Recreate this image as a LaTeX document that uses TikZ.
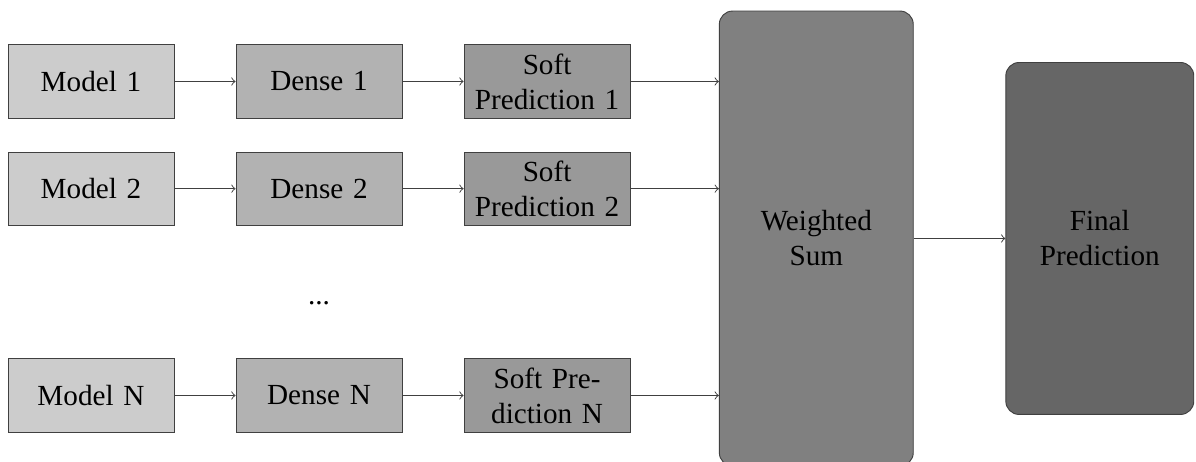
\documentclass[tikz,border=0pt]{standalone}
\usepackage{fontspec}
\setmainfont{Liberation Serif}
\usetikzlibrary{positioning}
\usetikzlibrary{calc}
\tikzset{
  box/.style     = { rectangle, draw=black!75, minimum width=2.5cm, minimum height=1.1cm,
                     text width=2.18cm, align=center },
  tall/.style    = { rectangle, draw=black!75, rounded corners=2mm,
                     text width=2.18cm, align=center },
}
\tikzset{
  model/.style   = { box,  fill=black!20 },
  dense/.style   = { box,  fill=black!30 },
  soft/.style    = { box,  fill=black!40 },
  merge/.style   = { tall, fill=black!50, minimum width=2.92cm, minimum height=6.85cm },
  final/.style   = { tall, fill=black!60, minimum width=2.83cm, minimum height=5.3cm },
}

\begin{document}
\begin{tikzpicture}[
  node distance=9.2mm,
  font=\fontsize{12.5pt}{15pt}\selectfont,
  thin,black!75,text=black
]
  \useasboundingbox (0,0) rectangle (18.01,-6.943);

  \node (m1) [model] at (1.37,-1.227)      {Model 1};
  \node (d1) [dense,right=of m1]           {Dense 1};
  \node (s1) [soft,right=of d1]            {Soft Prediction 1};

  \node (m2) [model,below=5mm of m1]       {Model 2};
  \node (d2) [dense,right=of m2]           {Dense 2};
  \node (s2) [soft,right=of d2]            {Soft Prediction 2};

  \node (mN) [model,below=2cm of m2]       {Model N};
  \node (dN) [dense,right=of mN]           {Dense N};
  \node (sN) [soft,right=of dN]            {Soft Prediction N};

  \node (dots) at ($(d2)!0.5!(dN)+(0,-0.16)$) {...};

  \coordinate (mid) at ($(s1.east)!0.5!(sN.east)$);
  \node (ws)    [merge,right=1.33cm of mid] {Weighted Sum};
  \node (final) [final,right=1.38cm of ws]  {Final Prediction};

  \draw [->] (m1) -- (d1);
  \draw [->] (d1) -- (s1);
  \draw [->] (m2) -- (d2);
  \draw [->] (d2) -- (s2);
  \draw [->] (mN) -- (dN);
  \draw [->] (dN) -- (sN);

  \draw [->] (s1) -- (s1 -| ws.west);
  \draw [->] (s2) -- (s2 -| ws.west);
  \draw [->] (sN) -- (sN -| ws.west);
  \draw [->] (ws) -- (final);

\end{tikzpicture}
\end{document}
